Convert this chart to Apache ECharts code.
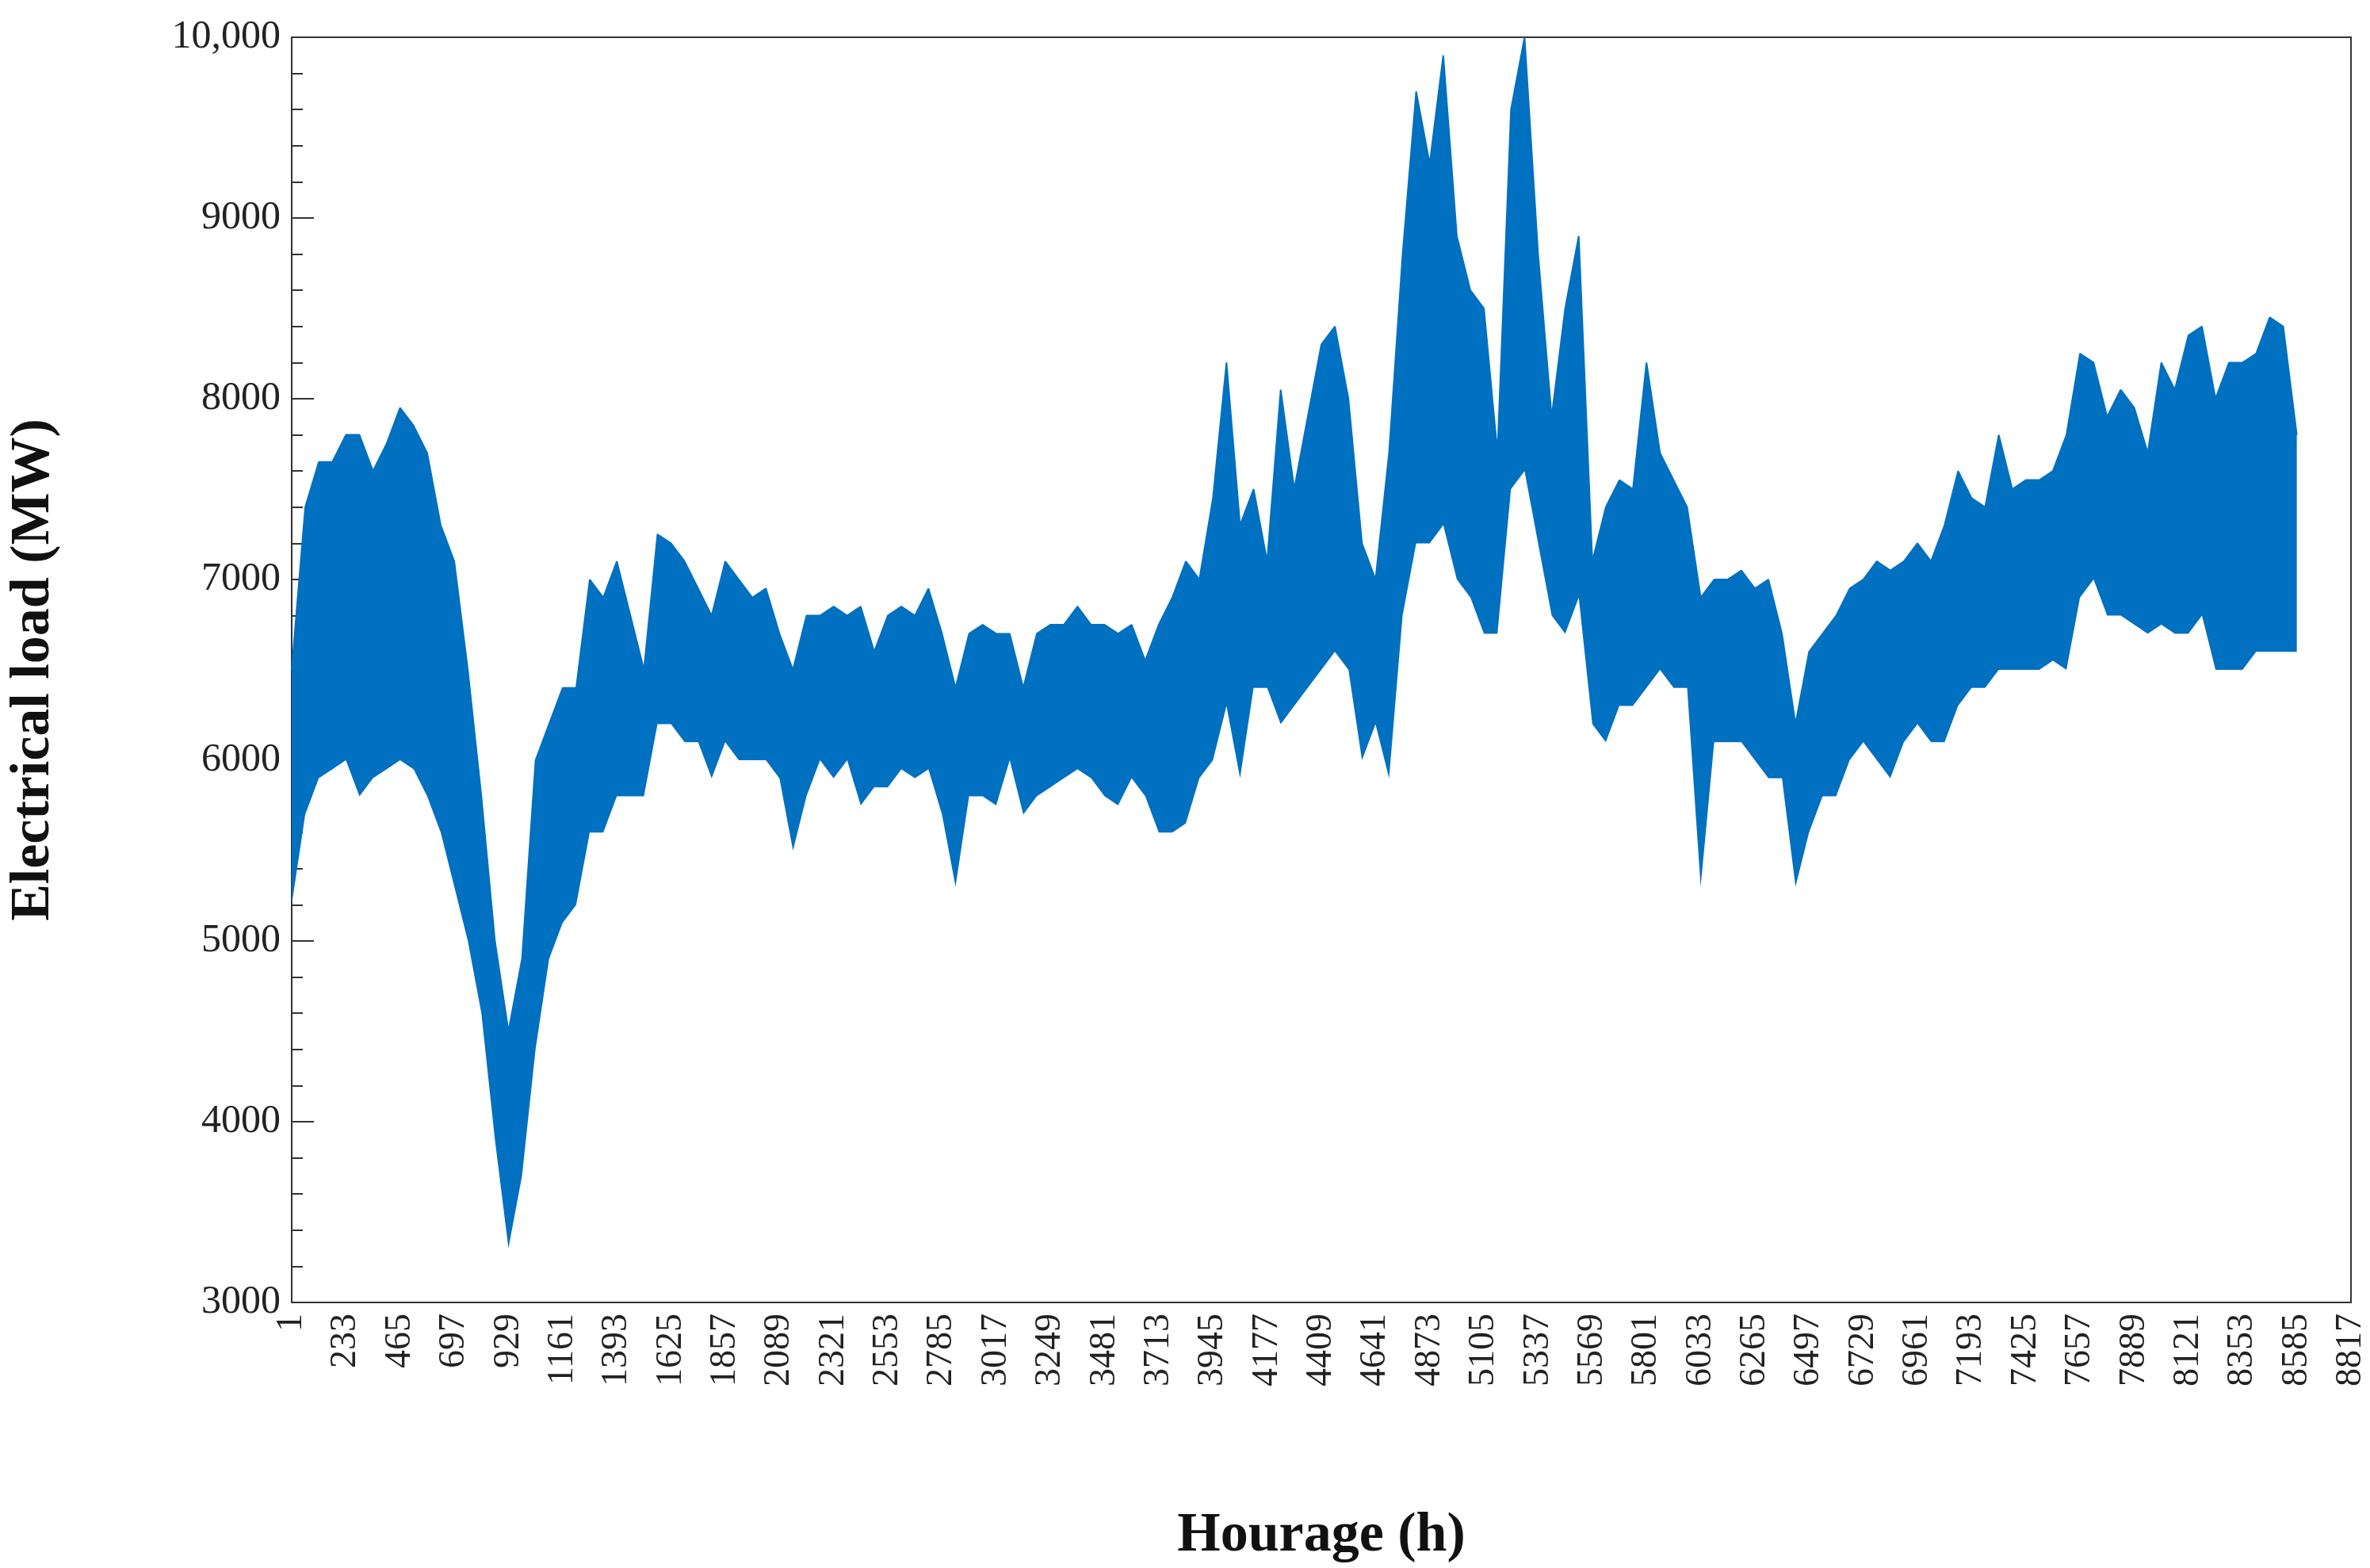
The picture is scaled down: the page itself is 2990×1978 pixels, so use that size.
<!DOCTYPE html>
<html>
<head>
<meta charset="utf-8">
<script src="https://cdn.jsdelivr.net/npm/echarts@6/dist/echarts.min.js"></script>
<style>html,body{margin:0;padding:0;background:#fff}#main{width:2990px;height:1978px}</style>
</head>
<body>
<div id="main"></div>
<script>
// hours sampled every 58 h, upper / lower envelope of the hourly load (MW)
const hourStep = 58;
const upperLoad = [6500,7400,7650,7650,7800,7800,7600,7750,7950,7850,7700,7300,7100,6500,5800,5000,4500,4900,6000,6200,
  6400,6400,7000,6900,7100,6800,6500,7250,7200,7100,6950,6800,7100,7000,6900,6950,6700,6500,6800,6800,
  6850,6800,6850,6600,6800,6850,6800,6950,6700,6400,6700,6750,6700,6700,6400,6700,6750,6750,6850,6750,
  6750,6700,6750,6550,6750,6900,7100,7000,7450,8200,7300,7500,7100,8050,7500,7900,8300,8400,8000,7200,
  7000,7700,8800,9700,9300,9900,8900,8600,8500,7700,9600,10000,8800,7900,8500,8900,7100,7400,7550,7500,
  8200,7700,7550,7400,6900,7000,7000,7050,6950,7000,6700,6200,6600,6700,6800,6950,7000,7100,7050,7100,
  7200,7100,7300,7600,7450,7400,7800,7500,7550,7550,7600,7800,8250,8200,7900,8050,7950,7700,8200,8050,
  8350,8400,8000,8200,8200,8250,8450,8400,7800];
const lowerLoad = [5200,5700,5900,5950,6000,5800,5900,5950,6000,5950,5800,5600,5300,5000,4600,3900,3300,3700,4400,4900,
  5100,5200,5600,5600,5800,5800,5800,6200,6200,6100,6100,5900,6100,6000,6000,6000,5900,5500,5800,6000,
  5900,6000,5750,5850,5850,5950,5900,5950,5700,5300,5800,5800,5750,6000,5700,5800,5850,5900,5950,5900,
  5800,5750,5900,5800,5600,5600,5650,5900,6000,6300,5900,6400,6400,6200,6300,6400,6500,6600,6500,6000,
  6200,5900,6800,7200,7200,7300,7000,6900,6700,6700,7500,7600,7200,6800,6700,6900,6200,6100,6300,6300,
  6400,6500,6400,6400,5300,6100,6100,6100,6000,5900,5900,5300,5600,5800,5800,6000,6100,6000,5900,6100,
  6200,6100,6100,6300,6400,6400,6500,6500,6500,6500,6550,6500,6900,7000,6800,6800,6750,6700,6750,6700,
  6700,6800,6500,6500,6500,6600,6600,6600,6600];
const lastHour = 8817;

const hours = [];
for (let h = 1; h <= lastHour; h += hourStep) hours.push(String(h));
const spread = upperLoad.map((u, i) => u - lowerLoad[i]);
const blue = '#0070C0';
const serif = 'Liberation Serif';

let myChart = echarts.init(document.getElementById('main'));
myChart.setOption({
  animation: false,
  backgroundColor: '#fff',
  grid: { left: 356, right: 24, top: 47, bottom: 332, show: true, borderColor: '#333', borderWidth: 2 },
  xAxis: {
    type: 'category',
    data: hours,
    boundaryGap: false,
    name: 'Hourage (h)',
    nameLocation: 'middle',
    nameGap: 260,
    nameTextStyle: { fontFamily: serif, fontWeight: 'bold', fontSize: 70, color: '#111' },
    axisLine: { lineStyle: { color: '#333', width: 2 } },
    axisTick: { show: false },
    axisLabel: { interval: 3, rotate: 90, fontFamily: serif, fontSize: 46, color: '#222', margin: 14 },
    splitLine: { show: false }
  },
  yAxis: {
    type: 'value',
    min: 3000,
    max: 10000,
    interval: 1000,
    name: 'Electrical load (MW)',
    nameLocation: 'middle',
    nameGap: 290,
    nameTextStyle: { fontFamily: serif, fontWeight: 'bold', fontSize: 70, color: '#111' },
    axisLine: { show: true, lineStyle: { color: '#333', width: 2 } },
    axisTick: { show: true, inside: true, length: 28, lineStyle: { color: '#333', width: 2 } },
    minorTick: { show: true, splitNumber: 5, length: 14, lineStyle: { color: '#333', width: 2 } },
    axisLabel: {
      fontFamily: serif, fontSize: 50, color: '#222', margin: 14,
      formatter: v => v === 10000 ? '10,000' : String(v)
    },
    splitLine: { show: false }
  },
  series: [
    {
      type: 'line', stack: 'band', data: lowerLoad, symbol: 'none',
      lineStyle: { width: 0, opacity: 0 }
    },
    {
      type: 'line', stack: 'band', data: spread, symbol: 'none',
      lineStyle: { color: blue, width: 2 },
      areaStyle: { color: blue, opacity: 1 }
    }
  ]
});
</script>
</body>
</html>
